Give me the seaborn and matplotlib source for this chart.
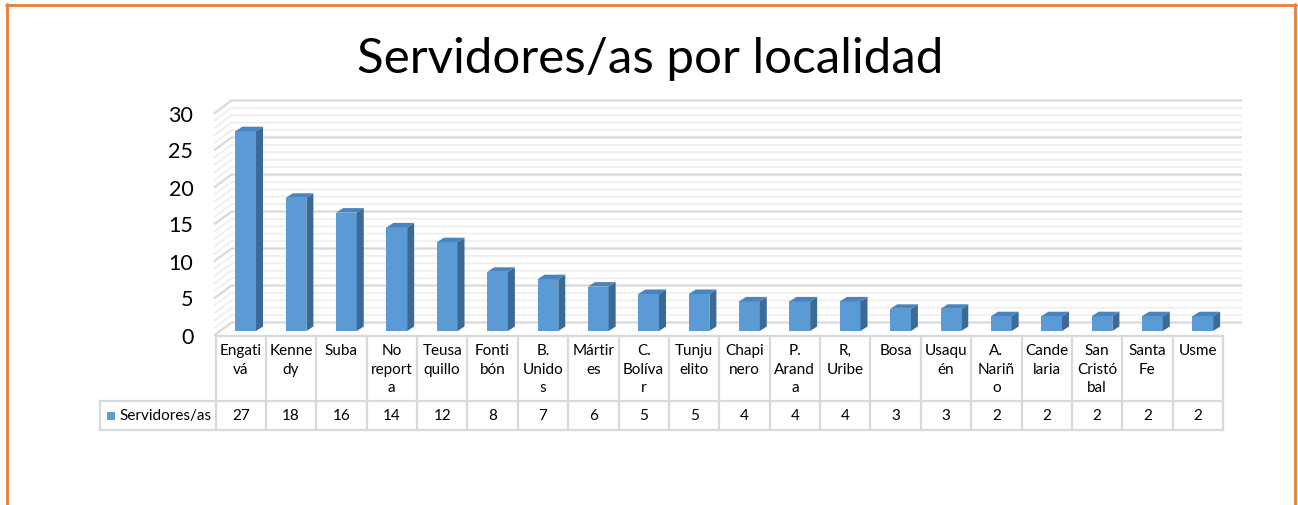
import matplotlib
matplotlib.use("Agg")
import matplotlib.pyplot as plt
import seaborn as sns
import numpy as np
from matplotlib.transforms import ScaledTranslation
from matplotlib.patches import Polygon, Rectangle
from matplotlib.lines import Line2D

# ---------------- data ----------------
categories = ["Engativá", "Kennedy", "Suba", "No reporta", "Teusaquillo", "Fontibón",
              "B. Unidos", "Mártires", "C. Bolívar", "Tunjuelito", "Chapinero",
              "P. Aranda", "R, Uribe", "Bosa", "Usaquén", "A. Nariño", "Candelaria",
              "San Cristóbal", "Santa Fe", "Usme"]
values = [27, 18, 16, 14, 12, 8, 7, 6, 5, 5, 4, 4, 4, 3, 3, 2, 2, 2, 2, 2]
tick_labels = ["Engati\nvá", "Kenne\ndy", "Suba", "No\nreport\na", "Teusa\nquillo",
               "Fonti\nbón", "B.\nUnido\ns", "Mártir\nes", "C.\nBolíva\nr", "Tunju\nelito",
               "Chapi\nnero", "P.\nArand\na", "R,\nUribe", "Bosa", "Usaqu\nén",
               "A.\nNariñ\no", "Cande\nlaria", "San\nCristó\nbal", "Santa\nFe", "Usme"]
series_name = "Servidores/as"
title = "Servidores/as por localidad"
y_ticks = [0, 5, 10, 15, 20, 25, 30]

# ---------------- style ----------------
sns.set_theme(style="white")
plt.rcParams['font.family'] = ['Lato', 'DejaVu Sans']

W, H = 1298, 505
fig = plt.figure(figsize=(W / 100, H / 100), dpi=100)

def fx(px):
    return px / W

def fy(py):
    return 1 - py / H

FRONT = "#5B9BD5"
SIDE = "#3B6A97"
TOP = "#4A84BE"
GRID_MAJ = "#D9D9D9"
GRID_MIN = "#EFEFEF"
BORDER = "#D9D9D9"
ORANGE = "#ED7D31"

# main axes: x pixels 215.5..1223, value 0 at y=335.5, 30 at y=113.5
x_left, x_right = 215.5, 1223.0
y0, y30 = 335.5, 113.5
ax = fig.add_axes([fx(x_left), fy(y0), fx(x_right - x_left), (y0 - y30) / H])
ax.set_facecolor("none")

unit_x = (x_right - x_left) / 20.0   # px per category
unit_y = (y0 - y30) / 30.0           # px per value

# back wall (3D) gridlines
bdx = 17.5 / unit_x
bdy = 13.0 / unit_y
front_left = -0.5 - 1.5 / unit_x
back_right = 19.5 + 19.0 / unit_x
for v in range(0, 31):
    major = (v % 5 == 0)
    col = GRID_MAJ if major else GRID_MIN
    lw = 1.6 if major else 1.3
    ax.plot([front_left, front_left + bdx, back_right], [v, v + bdy, v + bdy],
            color=col, lw=lw, clip_on=False, zorder=1 if major else 0.5,
            solid_capstyle="butt")

# bars (front faces) through seaborn
sns.barplot(x=categories, y=values, ax=ax, color=FRONT, saturation=1, width=0.41,
            edgecolor="none", zorder=3)
ax.set_xlim(-0.5, 19.5)
ax.set_ylim(0, 30)

shift = ax.transData + ScaledTranslation(5 / 100, 4.5 / 100, fig.dpi_scale_trans)
ddx = 7.0 / unit_x
ddy = 4.5 / unit_y
for p in ax.patches:
    p.set_transform(shift)
    p.set_clip_on(False)
    x0, w, h = p.get_x(), p.get_width(), p.get_height()
    x1 = x0 + w
    side = Polygon([(x1, 0), (x1, h), (x1 + ddx, h + ddy), (x1 + ddx, ddy)],
                   closed=True, facecolor=SIDE, edgecolor="none", transform=shift,
                   clip_on=False, zorder=3)
    top = Polygon([(x0, h), (x1, h), (x1 + ddx, h + ddy), (x0 + ddx, h + ddy)],
                  closed=True, facecolor=TOP, edgecolor="none", transform=shift,
                  clip_on=False, zorder=3)
    ax.add_patch(side)
    ax.add_patch(top)

ax.set_yticks(y_ticks)
ax.set_yticklabels([str(t) for t in y_ticks], fontsize=15.5, color="black")
ax.tick_params(axis="y", length=0, pad=16)
ax.set_xticks([])
ax.set_xlabel("")
ax.set_ylabel("")
for s in ax.spines.values():
    s.set_visible(False)

# ---------------- data table ----------------
t_top, t_mid, t_bot = 336.0, 401.5, 430.0
leg_left = 100.0
tab = fig.add_axes([fx(x_left), fy(t_bot), fx(x_right - x_left), (t_bot - t_top) / H])
tab.set_xlim(-0.5, 19.5)
tab.set_ylim(t_bot, t_top)
tab.axis("off")
leg_x = -0.5 - (x_left - leg_left) / unit_x

lkw = dict(color=BORDER, lw=1.6, clip_on=False, solid_capstyle="projecting")
# horizontal lines
tab.plot([-0.5, 19.5], [t_top, t_top], **lkw)
tab.plot([leg_x, 19.5], [t_mid, t_mid], **lkw)
tab.plot([leg_x, 19.5], [t_bot, t_bot], **lkw)
# vertical lines
for i in range(21):
    tab.plot([i - 0.5, i - 0.5], [t_top, t_bot], **lkw)
tab.plot([leg_x, leg_x], [t_mid, t_bot], **lkw)

for i, (lab, v) in enumerate(zip(tick_labels, values)):
    tab.text(i, t_top + 8.0, lab, ha="center", va="top", fontsize=11,
             linespacing=1.42, color="black")
    tab.text(i, (t_mid + t_bot) / 2 + 0.5, str(v), ha="center", va="center",
             fontsize=11, color="black")

# legend key in table
sq = 8.0
tab.add_patch(Rectangle((leg_x + 7 / unit_x, 420.5), sq / unit_x, -sq,
                        facecolor=FRONT, edgecolor="none", clip_on=False))
tab.text(leg_x + 19 / unit_x, (t_mid + t_bot) / 2 + 0.5, series_name, ha="left",
         va="center", fontsize=11, color="black")

# ---------------- title ----------------
fig.text(fx(650), fy(59), title, ha="center", va="center", fontsize=35.5, color="black")

# ---------------- orange frame ----------------
fig.add_artist(Line2D([fx(6.5), fx(6.5)], [fy(4), fy(505)], color=ORANGE, lw=2.0,
                      transform=fig.transFigure))
fig.add_artist(Line2D([fx(5.5), fx(1295.5)], [fy(4.5), fy(4.5)], color=ORANGE, lw=2.0,
                      transform=fig.transFigure))
fig.add_artist(Line2D([fx(1294.5), fx(1294.5)], [fy(4), fy(505)], color=ORANGE, lw=2.0,
                      transform=fig.transFigure))

fig.savefig("out.png", dpi=100, facecolor="white")
